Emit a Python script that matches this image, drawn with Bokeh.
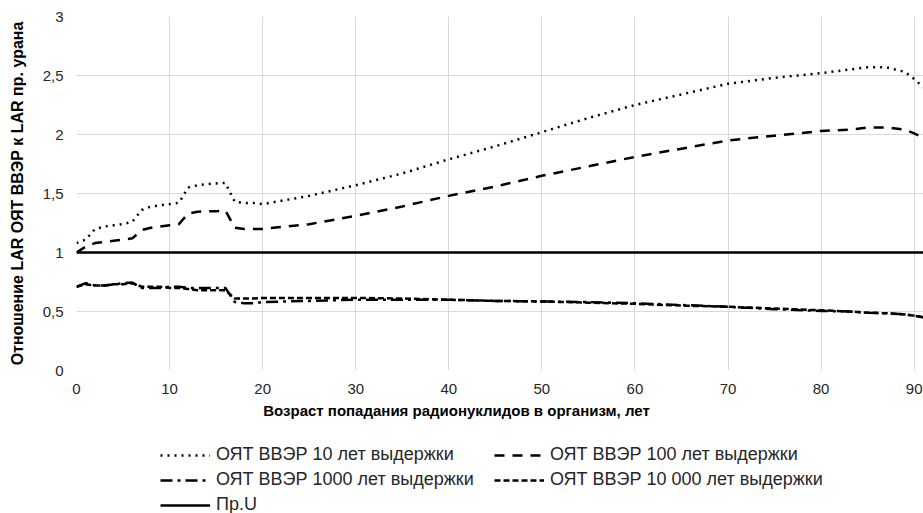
from bokeh.plotting import figure
from bokeh.models import Legend, LegendItem, Range1d, FixedTicker, CustomJSTickFormatter, Label
from bokeh.layouts import column
from bokeh.embed import file_html
from bokeh.resources import INLINE

ages = [0, 1, 2, 3, 4, 5, 6, 7, 8, 9, 10, 11, 12, 13, 14, 15, 16, 17, 18, 19, 20,
        25, 30, 35, 40, 45, 50, 55, 60, 65, 70, 75, 80, 83, 85, 87, 89, 90, 91]
s10 = [1.08, 1.11, 1.20, 1.22, 1.23, 1.24, 1.26, 1.36, 1.39, 1.40, 1.41, 1.42, 1.55, 1.57, 1.58, 1.585, 1.59, 1.43, 1.42, 1.42, 1.41,
       1.48, 1.57, 1.67, 1.79, 1.90, 2.02, 2.14, 2.25, 2.34, 2.43, 2.48, 2.52, 2.55, 2.57, 2.57, 2.53, 2.47, 2.40]
s100 = [1.00, 1.05, 1.08, 1.09, 1.10, 1.11, 1.12, 1.19, 1.21, 1.22, 1.23, 1.24, 1.33, 1.345, 1.35, 1.35, 1.355, 1.21, 1.20, 1.20, 1.20,
        1.24, 1.31, 1.39, 1.48, 1.56, 1.65, 1.73, 1.81, 1.88, 1.95, 1.99, 2.03, 2.04, 2.06, 2.06, 2.04, 2.01, 1.97]
s1000 = [0.71, 0.74, 0.72, 0.72, 0.73, 0.74, 0.745, 0.70, 0.70, 0.70, 0.71, 0.71, 0.70, 0.70, 0.70, 0.70, 0.70, 0.58, 0.57, 0.57, 0.58,
         0.59, 0.60, 0.60, 0.60, 0.59, 0.585, 0.58, 0.57, 0.555, 0.54, 0.52, 0.505, 0.50, 0.49, 0.485, 0.475, 0.465, 0.45]
s10000 = [0.71, 0.73, 0.72, 0.72, 0.73, 0.73, 0.74, 0.71, 0.71, 0.71, 0.70, 0.70, 0.69, 0.68, 0.68, 0.68, 0.68, 0.61, 0.61, 0.61, 0.615,
          0.615, 0.615, 0.61, 0.60, 0.59, 0.585, 0.575, 0.565, 0.55, 0.54, 0.525, 0.51, 0.50, 0.49, 0.485, 0.475, 0.465, 0.45]
sU = [1.0] * len(ages)

labels = ["ОЯТ ВВЭР 10 лет выдержки", "ОЯТ ВВЭР 100 лет выдержки",
          "ОЯТ ВВЭР 1000 лет выдержки", "ОЯТ ВВЭР 10 000 лет выдержки", "Пр.U"]
x_title = "Возраст попадания радионуклидов в организм, лет"
y_title = "Отношение LAR ОЯТ ВВЭР к LAR пр. урана"
x_ticks = [0, 10, 20, 30, 40, 50, 60, 70, 80, 90]
y_ticks = [0, 0.5, 1, 1.5, 2, 2.5, 3]

FONT = "Liberation Sans"
W = 2.5
styles = [dict(line_dash="2 5"), dict(line_dash="10 8"), dict(line_dash="12 5 3 5"),
          dict(line_dash="6 3"), dict(line_dash="solid")]
series = [s10, s100, s1000, s10000, sU]

# ---- main chart ----
p = figure(width=923, height=400, output_backend="svg", toolbar_location=None,
           x_range=Range1d(0, 91), y_range=Range1d(0, 3),
           min_border_left=76, min_border_top=16, min_border_right=0, min_border_bottom=30)
p.outline_line_color = None
p.border_fill_color = "white"

for ax in (p.xaxis[0], p.yaxis[0]):
    ax.axis_line_color = None
    ax.major_tick_line_color = None
    ax.minor_tick_line_color = None
    ax.major_tick_out = 0
    ax.major_tick_in = 0
    ax.minor_tick_out = 0
    ax.major_label_text_font = FONT
    ax.major_label_text_font_size = "15px"
    ax.major_label_text_color = "#262626"
    ax.axis_label_text_font = FONT
    ax.axis_label_text_font_size = "16px"
    ax.axis_label_text_font_style = "bold"
    ax.axis_label_text_color = "#000000"

p.xaxis[0].ticker = FixedTicker(ticks=x_ticks)
p.yaxis[0].ticker = FixedTicker(ticks=y_ticks)
p.yaxis[0].formatter = CustomJSTickFormatter(code="return tick.toString().replace('.', ',');")
p.yaxis[0].axis_label = y_title
p.xaxis[0].major_label_standoff = 13
p.yaxis[0].major_label_standoff = 13
p.yaxis[0].axis_label_standoff = 14

p.xgrid.grid_line_color = "#d9d9d9"
p.ygrid.grid_line_color = "#d9d9d9"
p.xgrid.ticker = FixedTicker(ticks=x_ticks)
p.ygrid.ticker = FixedTicker(ticks=y_ticks)

for s, st in zip(series, styles):
    p.line(ages, s, line_color="black", line_width=W, **st)

# ---- lower strip: x-axis title and legend ----
q = figure(width=923, height=113, output_backend="svg", toolbar_location=None,
           x_range=Range1d(0, 91), y_range=Range1d(10, 11),
           x_axis_type=None, y_axis_type=None,
           min_border_left=76, min_border_right=0, min_border_top=0, min_border_bottom=0)
q.outline_line_color = None
q.grid.visible = False
q.border_fill_color = "white"

rs = [q.line(ages, s, line_color="black", line_width=W, **st) for s, st in zip(series, styles)]

q.add_layout(Label(x=380, y=103, x_units="screen", y_units="screen", text=x_title,
                   text_font=FONT, text_font_size="15px", text_font_style="bold",
                   text_color="#000000", text_align="center", text_baseline="middle"))

common = dict(label_text_font=FONT, label_text_font_size="18px", label_text_color="#262626",
              glyph_width=50, glyph_height=18, label_height=18, label_standoff=6, spacing=4,
              border_line_color=None, background_fill_alpha=0, padding=0, margin=0)
leg1 = Legend(items=[LegendItem(label=labels[0], renderers=[rs[0]]),
                     LegendItem(label=labels[2], renderers=[rs[2]]),
                     LegendItem(label=labels[4], renderers=[rs[4]])],
              location=(84, -2), **common)
leg2 = Legend(items=[LegendItem(label=labels[1], renderers=[rs[1]]),
                     LegendItem(label=labels[3], renderers=[rs[3]])],
              location=(418, 23), **common)
q.add_layout(leg1, "center")
q.add_layout(leg2, "center")

layout = column(p, q, spacing=0)
open("out.html", "w").write(file_html(layout, INLINE))
